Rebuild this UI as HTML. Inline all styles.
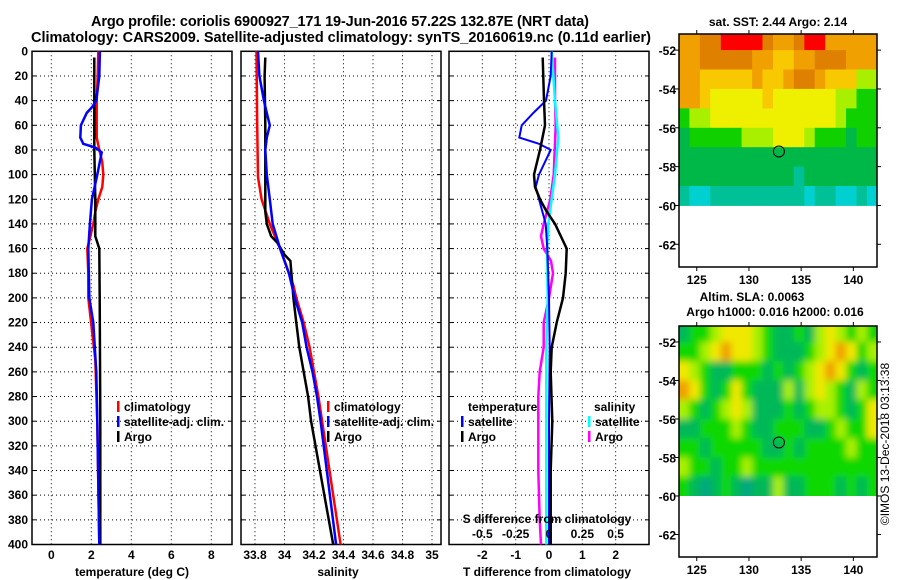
<!DOCTYPE html>
<html><head><meta charset="utf-8"><style>
html,body{margin:0;padding:0;background:#fff;}
svg{display:block;font-family:"Liberation Sans",Arial,sans-serif;font-weight:bold;}
</style></head><body>
<svg id="fig" width="900" height="580" viewBox="0 0 900 580">
<defs>
<filter id="blurSLA" x="-5%" y="-5%" width="110%" height="110%"><feGaussianBlur stdDeviation="3.5"/></filter>
<clipPath id="clipSLA"><rect x="679" y="326" width="198" height="170"/></clipPath>
</defs>
</svg>
<script>
// ---------- data ----------
const depthTicks=[0,20,40,60,80,100,120,140,160,180,200,220,240,260,280,300,320,340,360,380,400];
const tempTicks=[0,2,4,6,8];
const salTicks=[33.8,34,34.2,34.4,34.6,34.8,35];
const salTickLabels=["33.8","34","34.2","34.4","34.6","34.8","35"];
const tdiffTicks=[-2,-1,0,1,2];
const sdiffTicks=[-0.5,-0.25,0,0.25,0.5];
const sdiffTickLabels=["-0.5","-0.25","0","0.25","0.5"];
// temperature
const tClimDepth=[0,20,40,70,80,90,100,110,120,130,140,160,180,200,250,300,400];
const tClimVal=[2.35,2.32,2.27,2.27,2.4,2.55,2.6,2.55,2.35,2.2,2.1,1.8,1.85,1.85,2.2,2.3,2.4];
const tSatDepth=[0,20,40,45,50,60,70,75,78,82,100,120,140,160,200,220,260,300,400];
const tSatVal=[2.43,2.4,2.25,2.05,1.77,1.48,1.45,1.6,2.2,2.52,2.3,2.03,1.93,1.85,1.9,2.1,2.25,2.3,2.4];
const tArgoDepth=[5,40,80,120,150,155,160,200,300,400];
const tArgoVal=[2.15,2.15,2.15,2.2,2.2,2.3,2.4,2.42,2.45,2.45];
// salinity
const sClimDepth=[0,60,102,120,140,160,180,190,200,220,240,260,280,300,400];
const sClimVal=[33.81,33.815,33.82,33.845,33.9,33.97,34.03,34.06,34.08,34.13,34.17,34.2,34.23,34.255,34.38];
const sSatDepth=[0,20,40,50,60,70,80,100,120,140,160,180,200,220,240,260,280,300,400];
const sSatVal=[33.82,33.83,33.86,33.88,33.9,33.88,33.87,33.88,33.9,33.92,33.97,34.03,34.07,34.12,34.15,34.19,34.22,34.245,34.35];
const sArgoDepth=[5,20,60,100,130,140,150,155,165,170,200,220,240,260,280,300,400];
const sArgoVal=[33.87,33.865,33.87,33.87,33.87,33.88,33.91,33.95,34.0,34.04,34.06,34.08,34.1,34.13,34.16,34.18,34.33];
// differences
const dTArgoDepth=[5,40,60,80,100,110,120,130,140,160,180,200,220,240,260,300,340,400];
const dTArgoVal=[-0.19,-0.15,-0.12,-0.27,-0.45,-0.42,-0.27,-0.07,0.18,0.53,0.5,0.42,0.23,0.08,0.05,0.1,0.05,0.05];
const dTSatDepth=[0,20,40,50,60,70,75,80,100,110,120,140,160,200,240,300,400];
const dTSatVal=[0.08,0.05,-0.09,-0.47,-0.82,-0.89,-0.3,0.05,-0.3,-0.4,-0.3,-0.1,-0.05,0,0.02,0,0];
const dSSatDepth=[0,40,70,100,120,140,160,200,240,300,400];
const dSSatVal=[0.02,0.045,0.07,0.045,0.02,-0.005,-0.015,-0.01,-0.02,-0.02,-0.02];
const dSArgoDepth=[5,40,60,100,120,140,150,160,170,180,200,220,240,260,280,300,340,380,400];
const dSArgoVal=[0.045,0.045,0.05,0.035,0.01,-0.04,-0.06,-0.04,0.015,0.03,0,-0.04,-0.04,-0.07,-0.08,-0.08,-0.08,-0.07,-0.06];
// maps (1-degree cells, lon from 123.3, lat rows from -51.2 down to -60)
const mapLatEdges=[-51.17,-52,-53,-54,-55,-56,-57,-58,-59,-60];
const sstRows=[
"ooddrrrrdoodrrooooo",
"oodddddooyyoodddooo",
"ooyyyyyoyyoddoyyyll",
"ooyYYYYYyYYYYYYllgg",
"gllYYYYYYYYYYYYlggg",
"GggggglllYYYlgggGgg",
"GGGGGGGGGGGGGGGGGGG",
"GGGGGGGGGGGtGGGGGGG",
"tcctttttttttcttcctc"];
const slaRows=[
"GgglYYYlgGGgGlYlglg",
"gglYoYYlgGGGglYoYgl",
"YlgGGgggGgGglYoYgGg",
"oYgGgYgGGGlGlYlgGlg",
"lgGglYlGGGgGgllgGgY",
"GGggglgGGgggGGglggY",
"ggGgggggGGgGgggglgg",
"lggGgglgggggggggggg",
"gGtGgGtGGlGGgggGgGg"];
const sstColors={r:"#ff0000",d:"#e08000",o:"#f0a000",y:"#f8c800",Y:"#eef000",l:"#a8f000",g:"#10d000",G:"#00b848",t:"#00c098",c:"#00d0d0"};
const slaColors={g:"#10d800",G:"#00b858",t:"#00a880",l:"#a8f000",Y:"#f0e800",o:"#f0a000"};
const mapLonTicks=[125,130,135,140];
const mapLatTicks=[-52,-54,-56,-58,-60,-62];
const floatLon=132.87, floatLat=-57.22;

// ---------- helpers ----------
const NS="http://www.w3.org/2000/svg";
const svg=document.getElementById('fig');
function el(tag,attrs,parent){const e=document.createElementNS(NS,tag);for(const k in attrs)e.setAttribute(k,attrs[k]);(parent||svg).appendChild(e);return e;}
function txt(s,x,y,size,anchor,parent){const t=el('text',{x:x,y:y,'font-size':size,'text-anchor':anchor||'middle'},parent);t.textContent=s;return t;}
const Y0=51.3, YS=1.233;
const yD=d=>Y0+d*YS;
const xT=v=>51.3+v*20;
const xS=v=>255+(v-33.8)*147.5;
const xDT=v=>549+v*33.33;
const xDS=v=>549+v*133.3;

function panel(name){
  const g=el('g',{});
  
  
  return g;
}
function frame(g,x0,x1,gridXs){
  gridXs.forEach(x=>el('line',{x1:x,x2:x,y1:yD(0),y2:yD(400),stroke:'#000','stroke-width':1,'stroke-dasharray':'1,3'},g));
  depthTicks.forEach(d=>{ if(d>0&&d<400) el('line',{x1:x0,x2:x1,y1:yD(d),y2:yD(d),stroke:'#000','stroke-width':1,'stroke-dasharray':'1,3'},g);
    el('line',{x1:x0,x2:x0+4,y1:yD(d),y2:yD(d),stroke:'#000'},g);el('line',{x1:x1-4,x2:x1,y1:yD(d),y2:yD(d),stroke:'#000'},g);});
  el('rect',{x:x0,y:yD(0),width:x1-x0,height:yD(400)-yD(0),fill:'none',stroke:'#000','stroke-width':1.5},g);
}
function line(g,ds,vs,fx,color,name,w){
  const pts=ds.map((d,i)=>fx(vs[i]).toFixed(1)+','+yD(d).toFixed(1)).join(' ');
  const p=el('polyline',{points:pts,fill:'none',stroke:color,'stroke-width':w||2.5,'stroke-linejoin':'miter'},g);
  
  
}
function legendEntry(g,x,y,color,label,name){
  const gg=el('g',{},g);
  
  
  el('rect',{x:x,y:y-10,width:2.5,height:11,fill:color},gg);
  txt(label,x+7,y,12,'start',gg);
}

// titles
const t1=txt("Argo profile: coriolis 6900927_171 19-Jun-2016 57.22S 132.87E (NRT data)",340,26,14.5);
t1.setAttribute('textLength','498');

const t2=txt("Climatology: CARS2009. Satellite-adjusted climatology: synTS_20160619.nc (0.11d earlier)",341,42,14.5);
t2.setAttribute('textLength','620');


// panel 1 temperature
const p1=panel('temperature-panel');
frame(p1,32,232,tempTicks.map(xT));
depthTicks.forEach(d=>txt(String(d),28,yD(d)+4,12,'end',p1));
tempTicks.forEach(v=>txt(String(v),xT(v),559,12,'middle',p1));
txt("temperature (deg C)",132,576,12,'middle',p1);
line(p1,tClimDepth,tClimVal,xT,'#ff0000','climatology-temperature-line');
line(p1,tArgoDepth,tArgoVal,xT,'#000','argo-temperature-line');
line(p1,tSatDepth,tSatVal,xT,'#0000ff','satellite-temperature-line');
legendEntry(p1,117,411,'#ff0000','climatology','legend-climatology');
legendEntry(p1,117,426,'#0000ff','satellite-adj. clim.','legend-satellite');
legendEntry(p1,117,441,'#000','Argo','legend-argo');

// panel 2 salinity
const p2=panel('salinity-panel');
frame(p2,241,441,salTicks.map(xS));
salTicks.forEach((v,i)=>txt(salTickLabels[i],xS(v),559,12,'middle',p2));
txt("salinity",338,576,12,'middle',p2);
line(p2,sClimDepth,sClimVal,xS,'#ff0000','climatology-salinity-line');
line(p2,sArgoDepth,sArgoVal,xS,'#000','argo-salinity-line');
line(p2,sSatDepth,sSatVal,xS,'#0000ff','satellite-salinity-line');
legendEntry(p2,327,411,'#ff0000','climatology','legend-climatology-2');
legendEntry(p2,327,426,'#0000ff','satellite-adj. clim.','legend-satellite-2');
legendEntry(p2,327,441,'#000','Argo','legend-argo-2');

// panel 3 differences
const p3=panel('difference-panel');
frame(p3,449,649,tdiffTicks.map(xDT));
tdiffTicks.forEach(v=>txt(String(v),xDT(v),559,12,'middle',p3));
txt("T difference from climatology",547,576,12,'middle',p3);
line(p3,dSArgoDepth,dSArgoVal,xDS,'#ff00ff','argo-salinity-diff-line');
line(p3,dSSatDepth,dSSatVal,xDS,'#00ffff','satellite-salinity-diff-line');
line(p3,dTSatDepth,dTSatVal,xDT,'#0000ff','satellite-temperature-diff-line',2);
line(p3,dTArgoDepth,dTArgoVal,xDT,'#000','argo-temperature-diff-line');
txt("temperature",468,411,12,'start',p3);
legendEntry(p3,461,426,'#0000ff','satellite','legend-t-satellite');
legendEntry(p3,461,441,'#000','Argo','legend-t-argo');
txt("salinity",594,411,12,'start',p3);
legendEntry(p3,588,426,'#00ffff','satellite','legend-s-satellite');
legendEntry(p3,588,441,'#ff00ff','Argo','legend-s-argo');
txt("S difference from climatology",547,523,12,'middle',p3);
sdiffTicks.forEach((v,i)=>txt(sdiffTickLabels[i],xDS(v),538,12,'middle',p3));

// maps
function drawMap(name,rows,colors,top,bottom,smooth){
  const g=el('g',{});
  
  
  const X0=679,X1=877,lon0=123.3,lonS=10.44;
  const latTopY=top, yPerDeg=(bottom-top)/(63.17-51.17);
  const yLat=la=>latTopY+(-51.17-la)*yPerDeg;
  const xLon=lo=>X0+(lo-lon0)*lonS;
  let cellParent=g;
  if(smooth){
    const clipG=el('g',{'clip-path':'url(#clipSLA)'},g);
    cellParent=el('g',{filter:'url(#blurSLA)'},clipG);
  }
  rows.forEach((r,ri)=>{
    let ya=yLat(mapLatEdges[ri]), yb=yLat(mapLatEdges[ri+1]);
    if(smooth){ if(ri===0) ya-=10; if(ri===rows.length-1) yb+=10; }
    for(let ci=0;ci<r.length;ci++){
      let xa=xLon(lon0+ci), xb=Math.min(X1,xLon(lon0+ci+1));
      if(smooth){ if(ci===0) xa-=10; if(ci===r.length-1) xb=X1+10; }
      const c=el('rect',{x:xa.toFixed(1),y:ya.toFixed(1),width:(xb-xa+0.5).toFixed(1),height:(yb-ya+0.5).toFixed(1),fill:colors[r[ci]]},cellParent);
      
      
    }
  });
  el('rect',{x:X0,y:top,width:X1-X0,height:bottom-top,fill:'none',stroke:'#000','stroke-width':1.5},g);
  mapLatTicks.forEach(la=>{const y=yLat(la);
    el('line',{x1:X0,x2:X0-4,y1:y,y2:y,stroke:'#000'},g);el('line',{x1:X1,x2:X1+4,y1:y,y2:y,stroke:'#000'},g);
    txt(String(la),676,y+5,12,'end',g);});
  mapLonTicks.forEach(lo=>{const x=xLon(lo);
    el('line',{x1:x,x2:x,y1:top,y2:top-4,stroke:'#000'},g);el('line',{x1:x,x2:x,y1:bottom,y2:bottom+4,stroke:'#000'},g);
    txt(String(lo),x,bottom+17,12,'middle',g);});
  const c=el('circle',{cx:xLon(floatLon),cy:yLat(floatLat),r:5.5,fill:'none',stroke:'#000','stroke-width':1},g);
  
  
  return g;
}
drawMap('sst-map',sstRows,sstColors,34,267,false);
const mt1=txt("sat. SST: 2.44 Argo: 2.14",778,26,12,'middle');

drawMap('sla-map',slaRows,slaColors,326,557,true);
const mt2=txt("Altim. SLA: 0.0063",752,301,12,'middle');

const mt3=txt("Argo h1000: 0.016 h2000: 0.016",775,316,12,'middle');

const cp=el('text',{x:0,y:0,'font-size':12,'font-weight':'normal','text-anchor':'middle',transform:'translate(889,444) rotate(-90)'});
cp.textContent="©IMOS 13-Dec-2018 03:13:38";

</script>
</body></html>
